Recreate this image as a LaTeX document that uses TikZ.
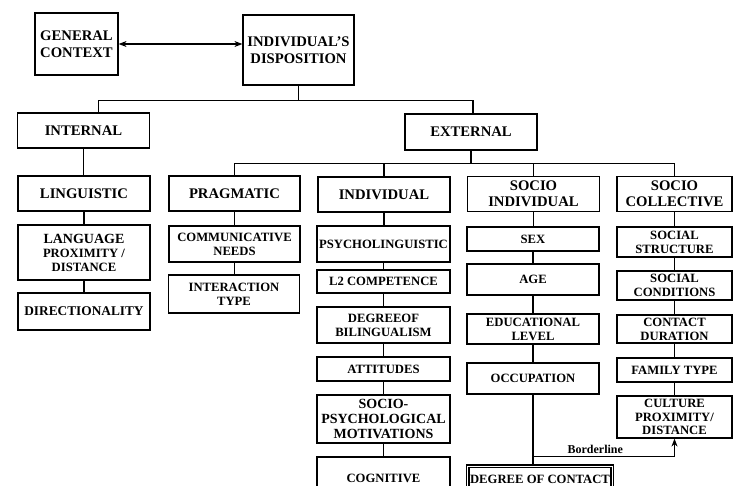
\documentclass[tikz,border=0pt]{standalone}
\usepackage{fontspec}
\setmainfont{Liberation Serif}
\usetikzlibrary{arrows.meta,calc}

\tikzset{
  box/.style={draw, line width=0.9pt, inner sep=1pt, align=center, font=\bfseries\fontsize{9.5}{10.5}\selectfont},
  head/.style={box, line width=1.4pt, minimum height=26.25pt, font=\bfseries\fontsize{11}{12}\selectfont},
  colA/.style={minimum width=99pt},
  colB/.style={minimum width=98.25pt},
  colC/.style={minimum width=99.75pt},
  colD/.style={minimum width=99pt},
  colE/.style={minimum width=86.25pt},
  link/.style={line width=0.8pt},
}

\begin{document}
\begin{tikzpicture}[x=0.75pt,y=0.75pt,yscale=-1,xscale=1,>={Stealth[length=6pt,width=4.5pt]}]
\useasboundingbox (0,0) rectangle (733,486);
\clip (0,0) rectangle (733,486);

%Top boxes
\node[box, font=\bfseries\fontsize{11}{13}\selectfont, minimum width=62.25pt, minimum height=46.5pt] (gen) at (76.5,44) {GENERAL\\CONTEXT};
\node[box, font=\bfseries\fontsize{11}{13}\selectfont, minimum width=83.25pt, minimum height=52.5pt] (disp) at (298.5,50) {INDIVIDUAL'S\\DISPOSITION};

%Internal / external
\node[head, colA] (internal) at (83.5,130.5) {INTERNAL};
\node[head, colA, minimum height=27pt] (external) at (471,132) {EXTERNAL};

%Categories
\node[head, colA] (linguistic) at (84,193.5) {LINGUISTIC};
\node[head, colB] (pragmatic) at (234.5,193.5) {PRAGMATIC};
\node[head, colA] (individual) at (384,194.5) {INDIVIDUAL};
\node[head, colD] (socioind) at (533.5,194) {SOCIO\\INDIVIDUAL};
\node[head, colE] (sociocol) at (674.5,194) {SOCIO\\COLLECTIVE};

%Linguistic column
\node[box, colA, minimum height=41.25pt] (langprox) at (84,252.5) {{\fontsize{10.5}{12}\selectfont LANGUAGE}\\PROXIMITY /\\DISTANCE};
\node[box, colA, minimum height=27.75pt, font=\bfseries\fontsize{10}{11}\selectfont] (direct) at (84,311.5) {DIRECTIONALITY};

%Pragmatic column
\node[box, colB, minimum height=27pt] (commneeds) at (234.5,244) {COMMUNICATIVE\\NEEDS};
\node[box, colB, minimum height=28.5pt] (interaction) at (234,294) {INTERACTION\\TYPE};

%Individual column
\node[box, colC, minimum height=27pt] (psycho) at (383.5,244) {PSYCHOLINGUISTIC};
\node[box, colC, minimum height=17.25pt] (ltwo) at (383.5,281.5) {L2 COMPETENCE};
\node[box, colC, minimum height=27pt] (biling) at (383.5,325) {DEGREEOF\\BILINGUALISM};
\node[box, colC, minimum height=18pt] (attitudes) at (383.5,369) {ATTITUDES};
\node[box, colC, minimum height=36pt, font=\bfseries\fontsize{10.5}{11.5}\selectfont] (sociopsych) at (383.5,419) {SOCIO-\\PSYCHOLOGICAL\\MOTIVATIONS};
\node[box, colC, minimum height=32.25pt] (cognitive) at (383.5,478.5) {COGNITIVE};

%Socio individual column
\node[box, colD, minimum height=18pt] (sex) at (533,239) {SEX};
\node[box, colD, minimum height=23.25pt] (age) at (533,279.5) {AGE};
\node[box, colD, minimum height=22.5pt] (edu) at (533,329) {EDUCATIONAL\\LEVEL};
\node[box, colD, minimum height=23.25pt] (occupation) at (533,378.5) {OCCUPATION};
\node[box, double, line width=0.8pt, double distance=1.2pt, minimum width=108.5pt, minimum height=19pt] (contact) at (540,479) {DEGREE OF CONTACT};

%Socio collective column
\node[box, colE, minimum height=22.5pt] (socstruct) at (674.5,242) {SOCIAL\\STRUCTURE};
\node[box, colE, minimum height=21.75pt] (soccond) at (674.5,285.5) {SOCIAL\\CONDITIONS};
\node[box, colE, minimum height=21pt] (duration) at (674.5,329) {CONTACT\\DURATION};
\node[box, colE, minimum height=18pt] (family) at (674.5,370) {FAMILY TYPE};
\node[box, colE, minimum height=31.5pt, font=\bfseries\fontsize{9.5}{10}\selectfont] (culture) at (674.5,417) {CULTURE\\PROXIMITY/\\DISTANCE};

%Connectors
\draw[link, <->] (gen.east) -- (gen.east -| disp.west);
\draw[link] (disp.south) -- ++(0,15) coordinate (j1);
\draw[link] (j1) -| ([xshift=11pt]internal.north);
\draw[link] (j1) -| ([xshift=1.5pt]external.north);
\draw[link] (external.south) -- ++(0,13) coordinate (j2);
\foreach \n in {pragmatic,individual,socioind,sociocol}
  \draw[link] (j2) -| (\n.north);

\foreach \a/\b in {internal/linguistic, linguistic/langprox, langprox/direct,
    pragmatic/commneeds, commneeds/interaction,
    individual/psycho, psycho/ltwo, ltwo/biling, biling/attitudes, attitudes/sociopsych, sociopsych/cognitive,
    socioind/sex, sex/age, age/edu, edu/occupation, occupation/contact,
    sociocol/socstruct, socstruct/soccond, soccond/duration, duration/family, family/culture}
  \draw[link] (\a.south) -- (\a.south |- \b.north);

%Borderline
\coordinate (bl) at ($(occupation.south)!0.875!(occupation.south |- contact.north)$);
\draw[link, ->] (bl) -| node[pos=0.22, above, inner sep=2pt, font=\bfseries\fontsize{9}{10}\selectfont] {Borderline} (culture.south);

\end{tikzpicture}
\end{document}
